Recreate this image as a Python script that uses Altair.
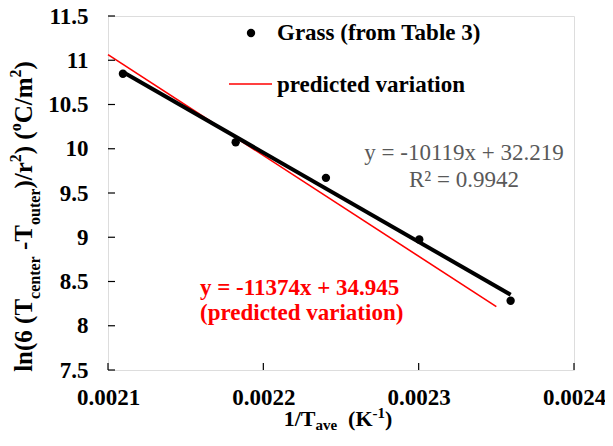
import altair as alt
import pandas as pd

# measured points (Grass, from Table 3)
inv_t = [0.0021096, 0.0021822, 0.0022403, 0.0023004, 0.0023592]
ln_val = [10.847, 10.074, 9.671, 8.974, 8.283]

# predicted variation line, end points
pred_x = [0.0021, 0.00235]
pred_y = [11.063, 8.216]

x_ticks = [0.0021, 0.0022, 0.0023, 0.0024]
y_ticks = [7.5, 8, 8.5, 9, 9.5, 10, 10.5, 11, 11.5]

FONT = "Times New Roman, Liberation Serif, Times, serif"
W, H = 466, 354

# Times bold advance widths (per 1000 em) for laying out the rich titles
TW = {"l": 278, "n": 556, "(": 333, ")": 333, "6": 500, " ": 250, "T": 667,
      "c": 444, "e": 444, "t": 333, "r": 444, "-": 333, "o": 500, "u": 556,
      "/": 278, "2": 500, "C": 722, "m": 833, "1": 500, "a": 500, "v": 500,
      "K": 778}


def layout(segs, main, small):
    pos, out = 0.0, []
    for txt, kind in segs:
        fs = main if kind == "main" else small
        lead = len(txt) - len(txt.lstrip())
        pos += lead * TW[" "] * fs / 1000
        s = txt.strip()
        out.append((s, kind, fs, pos))
        pos += sum(TW[ch] for ch in s) * fs / 1000
    return out, pos


def xenc():
    return alt.X("x:Q").scale(domain=[0.0021, 0.0024], nice=False, zero=False).axis(
        values=x_ticks, format=".4f", title=None, grid=False, ticks=False,
        tickSize=0, domain=False, labelPadding=16, labelFlush=False,
        labelFontSize=23, labelFont=FONT, labelFontWeight="bold",
        labelColor="black", labelOverlap=False)


def yenc():
    return alt.Y("y:Q").scale(domain=[7.5, 11.5], nice=False, zero=False).axis(
        values=y_ticks, format="~g", title=None, grid=False, ticks=False,
        tickSize=0, domain=False, labelPadding=20, labelFlush=False,
        labelFontSize=23, labelFont=FONT, labelFontWeight="bold",
        labelColor="black", labelOverlap=False)


pts = pd.DataFrame({"x": inv_t, "y": ln_val})
pred = pd.DataFrame({"x": pred_x, "y": pred_y})

points = alt.Chart(pts).mark_circle(size=70, color="black", opacity=1).encode(xenc(), yenc())
trend = (
    alt.Chart(pts)
    .transform_regression("x", "y")
    .mark_line(color="black", strokeWidth=4)
    .encode(xenc(), yenc())
)
predicted = alt.Chart(pred).mark_line(color="#ff0000", strokeWidth=1.6).encode(xenc(), yenc())

# inward tick marks
yt = alt.Chart(pd.DataFrame({"y": y_ticks})).mark_rule(color="black", strokeWidth=1.2).encode(
    yenc(), x=alt.value(0), x2=alt.value(7))
xt = alt.Chart(pd.DataFrame({"x": x_ticks})).mark_rule(color="black", strokeWidth=1.2).encode(
    xenc(), y=alt.value(H), y2=alt.value(H - 7))

one = alt.Data(values=[{}])
txt_style = dict(font=FONT, fontSize=23, fontWeight="bold", align="left", baseline="middle")

leg_dot = alt.Chart(one).mark_circle(size=70, color="black", opacity=1).encode(
    x=alt.value(143), y=alt.value(17))
leg_line = alt.Chart(one).mark_rule(color="#ff0000", strokeWidth=1.6).encode(
    x=alt.value(121), x2=alt.value(164), y=alt.value(68))
leg_t1 = alt.Chart(one).mark_text(text="Grass (from Table 3)", x=169, y=17, color="black", **txt_style)
leg_t2 = alt.Chart(one).mark_text(text="predicted variation", x=169, y=69, color="black", **txt_style)

fit_eq = alt.Chart(one).mark_text(
    text=["y = -10119x + 32.219", "R² = 0.9942"], x=356, y=137, lineHeight=27,
    font=FONT, fontSize=23, align="center", baseline="middle", color="#595959")
pred_eq = alt.Chart(one).mark_text(
    text=["y = -11374x + 34.945", "(predicted variation)"], x=92, y=272, lineHeight=25,
    color="#ff0000", **txt_style)

# rich axis titles built from runs of text
title_layers = []
y_segs = [("ln(6 (", "main"), ("T", "main"), ("center", "sub"), (" -T", "main"),
          ("outer", "sub"), (")/r", "main"), ("2", "sup"), (")", "main"),
          (" (", "main"), ("o", "sup"), ("C/m", "main"), ("2", "sup"), (")", "main")]
runs, total = layout(y_segs, 25, 16)
y0 = 200.5 + total / 2
yoff = {"main": -76.5, "sub": -68.5, "sup": -87}
for s, kind, fs, pos in runs:
    title_layers.append(alt.Chart(one).mark_text(
        text=s, x=yoff[kind], y=y0 - pos, angle=270, align="left", baseline="alphabetic",
        font=FONT, fontSize=fs, fontWeight="bold", color="black"))

x_segs = [("1/T", "main"), ("ave", "sub"), ("  (K", "main"), ("-1", "sup"), (")", "main")]
runs, total = layout(x_segs, 22, 15)
x0 = 230 - total / 2
xoff = {"main": 410, "sub": 414, "sup": 402}
for s, kind, fs, pos in runs:
    title_layers.append(alt.Chart(one).mark_text(
        text=s, x=x0 + pos, y=xoff[kind], align="left", baseline="alphabetic",
        font=FONT, fontSize=fs, fontWeight="bold", color="black"))

chart = (
    alt.layer(predicted, trend, points, yt, xt, leg_dot, leg_line, leg_t1, leg_t2,
              fit_eq, pred_eq, *title_layers)
    .properties(width=W, height=H,
                autosize=alt.AutoSizeParams(type="none"),
                padding={"left": 100, "top": 8, "right": 31, "bottom": 62})
    .configure_view(stroke="black", strokeWidth=1.5)
    .configure(background="white")
)

chart.save("out.html", embed_options={"renderer": "svg", "actions": False})
